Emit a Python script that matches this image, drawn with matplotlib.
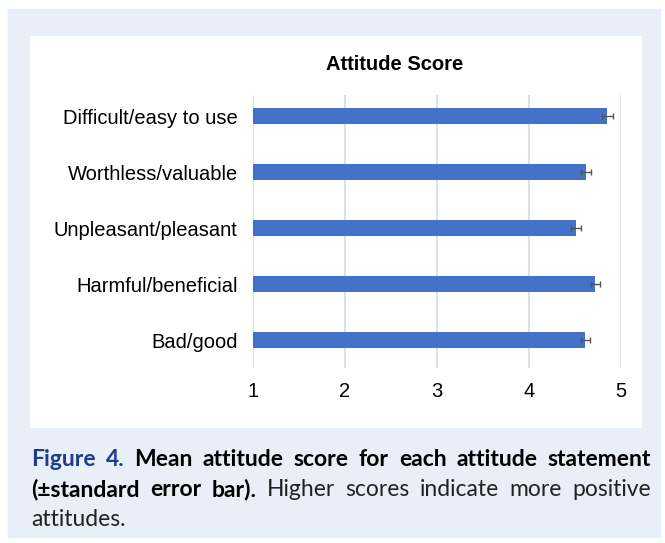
import numpy as np
import matplotlib
matplotlib.use('Agg')
import matplotlib.pyplot as plt
from matplotlib.patches import Rectangle

statements = ['Difficult/easy to use', 'Worthless/valuable', 'Unpleasant/pleasant',
              'Harmful/beneficial', 'Bad/good']
mean_score = [4.85, 4.62, 4.51, 4.72, 4.61]
std_err = [0.06, 0.05, 0.05, 0.05, 0.05]
x_ticks = [1, 2, 3, 4, 5]

BAR_COLOR = '#4472c8'
PANEL_BG = '#e8eff8'
CAPTION_BLUE = '#1f3d8f'

plt.rcParams['font.family'] = ['Liberation Sans', 'DejaVu Sans']

fig = plt.figure(figsize=(6.65, 5.43), dpi=100)
W, H = 665, 543

def px_rect(x0, y0, x1, y1, color):
    fig.patches.append(Rectangle((x0 / W, 1 - y1 / H), (x1 - x0) / W, (y1 - y0) / H,
                                 transform=fig.transFigure, color=color, zorder=-10))

px_rect(8, 9, 660, 537, PANEL_BG)
px_rect(30, 36, 641, 427, 'white')

ax = fig.add_axes([253 / W, 1 - 368 / H, (621 - 253) / W, (368 - 95) / H])
ax.set_facecolor('none')
ypos = np.arange(len(statements))
bar_len = [m - 1 for m in mean_score]
ax.barh(ypos, bar_len, left=1, height=0.3, color=BAR_COLOR, zorder=3)
ax.errorbar(mean_score, ypos, xerr=std_err, fmt='none', ecolor='#555555',
            elinewidth=1, capsize=2, capthick=1, zorder=4)
ax.set_xlim(1, 5)
ax.set_ylim(4.5, -0.375)
ax.set_xticks(x_ticks)
ax.set_xticklabels([str(t) for t in x_ticks], fontsize=14.5)
ax.set_yticks(ypos)
ax.set_yticklabels(statements, fontsize=14.5)
ax.tick_params(length=0, pad=11)
ax.tick_params(axis='x', pad=10)
ax.grid(axis='x', color='#d9d9d9', lw=1.2, zorder=0)
for s in ax.spines.values():
    s.set_visible(False)

fig.text(395 / W, 1 - 64 / H, 'Attitude Score', ha='center', va='center',
         fontsize=14.5, fontweight='bold')

# caption, justified word by word
renderer = fig.canvas.get_renderer()
cap_font = ['Lato', 'DejaVu Sans']

def put_line(words, y, x0=31, x1=651, justify=True):
    arts = []
    for w, bold, col in words:
        t = fig.text(0, 1 - y / H, w, fontsize=16.5, family=cap_font,
                     fontweight='bold' if bold else 'normal', color=col, va='center')
        arts.append(t)
    widths = [a.get_window_extent(renderer).width for a in arts]
    if justify and len(arts) > 1:
        gap = (x1 - x0 - sum(widths)) / (len(arts) - 1)
    else:
        gap = 4.5
    x = x0
    for a, w in zip(arts, widths):
        a.set_x(x / W)
        x += w + gap

line1 = [('Figure', True, CAPTION_BLUE), ('4.', True, CAPTION_BLUE)] + \
        [(w, True, 'black') for w in 'Mean attitude score for each attitude statement'.split()]
line2 = [(w, True, 'black') for w in '(±standard error bar).'.split()] + \
        [(w, False, '#222222') for w in 'Higher scores indicate more positive'.split()]
line3 = [('attitudes.', False, '#222222')]

put_line(line1, 460)
put_line(line2, 490)
put_line(line3, 519, justify=False)

fig.savefig('out.png', dpi=100)
